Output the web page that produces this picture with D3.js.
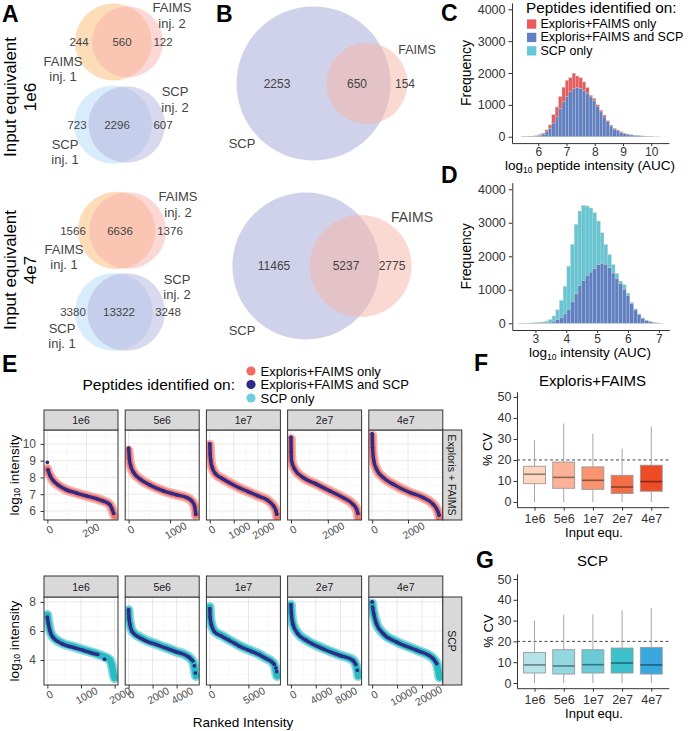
<!DOCTYPE html>
<html><head><meta charset="utf-8">
<script src="https://cdn.jsdelivr.net/npm/d3@7"></script>
<style>body{margin:0;background:#fff} svg{display:block;font-family:"Liberation Sans",Arial,sans-serif}</style>
</head><body><svg id="c" width="690" height="731"></svg>
<script>
// ================= DATA =================
// Panel A: [inj.1 only, shared, inj.2 only]
const vennA_1e6_FAIMS = [244, 560, 122];
const vennA_1e6_SCP   = [723, 2296, 607];
const vennA_4e7_FAIMS = [1566, 6636, 1376];
const vennA_4e7_SCP   = [3380, 13322, 3248];
// Panel B: [SCP only, shared, FAIMS only]
const vennB_1e6 = [2253, 650, 154];
const vennB_4e7 = [11465, 5237, 2775];

// Panel C histogram (bins start 5.4, width 0.12)
const histC_start = 5.4, histC_width = 0.12;
const histC_both = [3,5,8,12,20,45,85,155,270,430,630,890,1100,1260,1410,1520,1545,1510,1460,1370,1250,1140,960,780,620,470,335,240,190,135,95,75,55,40,30,22,15,10,6,4,2];
const histC_faimsOnly = [2,3,5,8,12,20,25,60,100,260,300,370,450,510,440,470,360,340,260,170,50,60,40,50,60,30,30,20,20,20,10,8,5,4,3,2,2,1,1,0,0];
// Panel D histogram (bins start 2.46, width 0.12)
const histD_start = 2.46, histD_width = 0.12;
const histD_both = [1,1,2,3,5,8,12,20,35,60,110,180,280,420,640,880,1120,1280,1420,1530,1630,1750,1790,1760,1660,1500,1340,1180,1020,820,580,400,260,150,85,45,22,9,4];
const histD_scpOnly = [1,2,3,5,10,17,28,45,75,160,290,500,820,1280,1710,2070,2230,2240,2080,1910,1670,1300,910,590,390,250,140,80,130,80,40,30,20,10,5,5,3,1,0];
const histLegend = ["Exploris+FAIMS only", "Exploris+FAIMS and SCP", "SCP only"];

// Panel E: ranked intensity curves [rank, log10 intensity]
const E_cols = ["1e6", "5e6", "1e7", "2e7", "4e7"];
const E_rows = ["Exploris + FAIMS", "SCP"];
const E_top_band = [
  [[0,8.5],[5,8.3],[14,8.1],[31,7.8],[56,7.54],[98,7.26],[149,7.07],[200,6.9],[251,6.74],[285,6.6],[310,6.47],[322,6.35],[332,6.11],[339,5.87],[345,5.7]],
  [[0,9.6],[20,9.1],[50,8.7],[120,8.3],[280,7.9],[520,7.54],[840,7.2],[1160,6.96],[1400,6.8],[1520,6.6],[1590,6.3],[1615,5.9],[1620,5.75]],
  [[0,9.95],[15,9.4],[40,9.0],[100,8.6],[250,8.2],[500,7.95],[800,7.7],[1200,7.4],[1600,7.15],[2000,6.9],[2400,6.65],[2650,6.3],[2760,6.0],[2800,5.65]],
  [[0,10.3],[10,9.5],[30,9.0],[195,8.5],[646,8.0],[1373,7.6],[2094,7.2],[2816,6.8],[3360,6.4],[3560,6.1],[3630,5.8],[3650,5.6]],
  [[0,10.5],[20,9.8],[89,9.0],[240,8.5],[608,8.0],[1165,7.6],[2096,7.1],[2837,6.8],[3395,6.4],[3650,6.0],[3750,5.6]]
];
const E_top_navy = [
  [[0,8.9],null,[3,8.45],[14,8.1],[31,7.8],[56,7.54],[98,7.26],[149,7.07],[200,6.9],[251,6.74],[285,6.6],[310,6.47],[322,6.35],[332,6.11],[340,5.85]],
  [[0,9.75],[20,9.1],[50,8.7],[120,8.3],[280,7.9],[520,7.54],[840,7.2],[1160,6.96],[1400,6.8],[1520,6.6],[1590,6.3],[1612,5.95],[1618,5.8]],
  [[0,10.0],[15,9.4],[40,9.0],[100,8.6],[250,8.2],[500,7.95],[800,7.7],[1200,7.4],[1600,7.15],[2000,6.9],[2400,6.65],[2650,6.3],[2760,6.0],[2790,5.8]],
  [[0,10.4],[10,9.5],[30,9.0],[195,8.5],[646,8.0],[1373,7.6],[2094,7.2],[2816,6.8],[3360,6.4],[3560,6.1],[3630,5.85]],
  [[0,10.6],[20,9.8],[89,9.0],[240,8.5],[608,8.0],[1165,7.6],[2096,7.1],[2837,6.8],[3395,6.4],[3650,6.0],[3730,5.75]]
];
const E_bot_band = [
  [[0,7.1],[30,6.6],[70,6.1],[170,5.6],[450,5.15],[800,4.9],[1070,4.7],[1560,4.35],[1860,4.0],[1930,3.5],[1970,3.0],[2000,2.75]],
  [[0,7.45],[40,6.9],[120,6.5],[300,6.0],[1130,5.5],[2520,5.03],[3910,4.6],[5020,4.2],[5400,3.8],[5520,3.3],[5600,2.9]],
  [[0,7.65],[50,7.0],[200,6.5],[600,6.0],[1500,5.7],[2535,5.38],[3800,5.0],[5120,4.69],[6400,4.4],[7280,4.12],[8000,3.9],[8400,3.6],[8600,3.1],[8700,2.9]],
  [[0,7.8],[60,7.3],[306,6.52],[1113,5.84],[2460,5.38],[5150,4.81],[7840,4.35],[9990,4.0],[10500,3.6],[10750,3.2],[10850,2.9]],
  [[0,7.9],[200,7.6],[640,7.2],[1720,6.52],[4400,5.84],[9750,5.26],[17800,4.69],[24450,4.12],[26000,3.7],[26600,3.2],[27000,2.8]]
];
const E_bot_navy = [
  [[0,6.95],[30,6.5],[70,6.05],[170,5.55],[450,5.1],[800,4.85],[1070,4.67],[1300,4.5],[1500,4.38],null,[1700,4.05]],
  [[0,7.45],[40,6.85],[120,6.45],[300,5.95],[1130,5.45],[2520,5.0],[3910,4.58],[5020,4.2],[5350,3.95],null,[5480,3.6],null,[5560,3.1]],
  [[0,7.55],[50,6.95],[200,6.45],[600,5.95],[1500,5.65],[2535,5.35],[3800,4.97],[5120,4.66],[6400,4.37],[7280,4.1],[8000,3.88],[8350,3.7],null,[8550,3.45],null,[8650,3.2]],
  [[0,7.8],[60,7.25],[306,6.48],[1113,5.8],[2460,5.35],[5150,4.78],[7840,4.32],[9990,3.98],[10450,3.7],null,[10700,3.3]],
  [[0,8.0],null,[150,7.65],[640,7.18],[1720,6.5],[4400,5.82],[9750,5.24],[17800,4.67],[24450,4.1],[25900,3.75]]
];
const E_top_xticks = [[0,200],[0,1000],[0,1000,2000],[0,2000],[0,2000]];
const E_bot_xticks = [[0,1000,2000],[0,2000,4000],[0,5000],[0,4000,8000],[0,10000,20000]];
const E_top_yticks = [6,7,8,9,10];
const E_bot_yticks = [4,6,8];

// Panels F, G: CV boxplots
const inputEqu = ["1e6", "5e6", "1e7", "2e7", "4e7"];
const boxF_low  = [0, 0, 0, 0, 0];
const boxF_q1   = [8.7, 6.5, 6.0, 4.0, 5.1];
const boxF_med  = [13.2, 11.7, 10.3, 7.1, 9.7];
const boxF_q3   = [17.0, 19.0, 16.7, 12.7, 17.5];
const boxF_high = [29.4, 37.3, 32.5, 25.4, 36.0];
const boxG_low  = [0, 0, 0, 0, 0];
const boxG_q1   = [4.8, 4.3, 4.8, 4.8, 4.3];
const boxG_med  = [8.7, 8.2, 8.8, 9.6, 8.7];
const boxG_q3   = [14.7, 16.0, 16.0, 16.8, 17.1];
const boxG_high = [30.0, 32.8, 33.0, 35.0, 36.0];
const cvTicks = [0, 10, 20, 30, 40, 50];
const cvThreshold = 20;

// ================= DRAW =================
const svg = d3.select("#c");
const FONT = '"Liberation Sans", Arial, sans-serif';
function T(g, x, y, s, o = {}) {
  const t = g.append("text").attr("x", x).attr("y", y).text(s)
    .attr("font-size", o.size || 12).attr("fill", o.fill || "#333")
    .attr("text-anchor", o.anchor || "start");
  if (o.central) t.attr("dominant-baseline", "central");
  if (o.bold) t.attr("font-weight", "bold");
  if (o.rotate) t.attr("transform", `rotate(${o.rotate},${x},${y})`);
  return t;
}
function styleAxis(g, size, fill) {
  g.attr("font-family", FONT).attr("font-size", size);
  g.select(".domain").attr("stroke", "#333");
  g.selectAll(".tick line").attr("stroke", "#333");
  g.selectAll(".tick text").attr("fill", fill || "#333");
}

// Panel labels
[["A",2,22],["B",216,22],["C",441,21],["D",441,183],["E",2,372],["F",474,371],["G",476,568]]
  .forEach(([s,x,y]) => T(svg, x, y, s, {size: 23, bold: true, fill: "#000"}));

// ---- Venn ----
function lensArea(d, r1, r2) {
  if (d >= r1 + r2) return 0;
  if (d <= Math.abs(r1 - r2)) return Math.PI * Math.min(r1, r2) ** 2;
  const a = r1*r1*Math.acos((d*d + r1*r1 - r2*r2) / (2*d*r1));
  const b = r2*r2*Math.acos((d*d + r2*r2 - r1*r1) / (2*d*r2));
  const c = 0.5*Math.sqrt((-d+r1+r2)*(d+r1-r2)*(d-r1+r2)*(d+r1+r2));
  return a + b - c;
}
function venn(counts, midX, cy, rMax, fill1, fill2, numPos, numSize) {
  const n1 = counts[0] + counts[1], n2 = counts[1] + counts[2], nm = Math.max(n1, n2);
  const r = d3.scaleSqrt().domain([0, nm]).range([0, rMax]);
  const r1 = r(n1), r2 = r(n2);
  const target = Math.PI * r1 * r1 * counts[1] / n1;
  let lo = Math.abs(r1 - r2), hi = r1 + r2;
  for (let i = 0; i < 60; i++) { const m = (lo + hi) / 2; if (lensArea(m, r1, r2) > target) lo = m; else hi = m; }
  const d = (lo + hi) / 2;
  const c1 = midX - (d + r2 - r1) / 2, c2 = c1 + d;
  const g = svg.append("g");
  g.append("circle").attr("cx", c1).attr("cy", cy).attr("r", r1).attr("fill", fill1).attr("fill-opacity", 0.5);
  g.append("circle").attr("cx", c2).attr("cy", cy).attr("r", r2).attr("fill", fill2).attr("fill-opacity", 0.5);
  counts.forEach((v, i) => T(g, numPos[i], cy, d3.format("d")(v), {size: numSize, anchor: "middle", central: true, fill: "#444"}));
}
venn(vennA_1e6_FAIMS, 119, 42, 38.5, "#fbb971", "#f7afad", [79,122,163], 11.5);
venn(vennA_1e6_SCP, 119.5, 124.5, 39, "#b3d9f7", "#b1b1dd", [77,117,163], 11.5);
venn(vennA_4e7_FAIMS, 122, 230.5, 38.8, "#fbb971", "#f7afad", [73,120,170], 11.5);
venn(vennA_4e7_SCP, 120, 312, 39, "#b3d9f7", "#b1b1dd", [73,119,168], 11.5);
venn(vennB_1e6, 322, 83.5, 77, "#a1a3d5", "#f5b3a5", [277,357,405], 12);
venn(vennB_4e7, 322, 266, 73.5, "#a1a3d5", "#f5b3a5", [274,346,392], 12);

const vl = [
  ["FAIMS",172,7],["inj. 2",172,23],["FAIMS",63,61],["inj. 1",63,76],
  ["SCP",175,91],["inj. 2",175,107],["SCP",65,144],["inj. 1",65,159],
  ["FAIMS",178,196],["inj. 2",178,212],["FAIMS",64,249],["inj. 1",64,264],
  ["SCP",177,279],["inj. 2",177,294],["SCP",62,328],["inj. 1",62,343]
];
vl.forEach(([s,x,y]) => T(svg, x, y, s, {size: 13, anchor: "middle", central: true, fill: "#444"}));
T(svg, 417, 50, "FAIMS", {size: 12.5, anchor: "middle", central: true, fill: "#444"});
T(svg, 242, 143, "SCP", {size: 13, anchor: "middle", central: true, fill: "#444"});
T(svg, 412, 217, "FAIMS", {size: 14, anchor: "middle", central: true, fill: "#444"});
T(svg, 242, 330, "SCP", {size: 13, anchor: "middle", central: true, fill: "#444"});
[["Input equivalent",10,97],["1e6",30,97],["Input equivalent",10,270],["4e7",30,270]]
  .forEach(([s,x,y]) => T(svg, x, y, s, {size: 17, anchor: "middle", central: true, fill: "#000", rotate: -90}));

// ---- Histograms C, D ----
const colRed = "#ec5a5b", colBlue = "#5f80c5", colTeal = "#62c8d6";
function hist(cfg) {
  const g = svg.append("g");
  const x = d3.scaleLinear().domain(cfg.xdom).range(cfg.xr);
  const y = d3.scaleLinear().domain([-200, 4200]).range(cfg.yr);
  const bins = cfg.bottom.map((v, i) => ({x0: cfg.start + i*cfg.width, x1: cfg.start + (i+1)*cfg.width, b: v, t: cfg.top[i]}));
  g.selectAll("rect.b").data(bins).join("rect").attr("class","b")
    .attr("x", d => x(d.x0)).attr("width", d => x(d.x1) - x(d.x0))
    .attr("y", d => y(d.b)).attr("height", d => y(0) - y(d.b))
    .attr("fill", colBlue).attr("stroke", "#c4c4c4").attr("stroke-width", 0.4);
  g.selectAll("rect.t").data(bins).join("rect").attr("class","t")
    .attr("x", d => x(d.x0)).attr("width", d => x(d.x1) - x(d.x0))
    .attr("y", d => y(d.b + d.t)).attr("height", d => y(d.b) - y(d.b + d.t))
    .attr("fill", cfg.topColor).attr("stroke", "#c4c4c4").attr("stroke-width", 0.4);
  const ax = g.append("g").attr("transform", `translate(0,${cfg.yr[0]})`)
    .call(d3.axisBottom(x).tickValues(cfg.xticks).tickFormat(d3.format("d")).tickSize(3).tickPadding(1.5).tickSizeOuter(0));
  styleAxis(ax, 12);
  const ay = g.append("g").attr("transform", `translate(${cfg.xr[0]},0)`)
    .call(d3.axisLeft(y).tickValues([0,1000,2000,3000,4000]).tickFormat(d3.format("d")).tickSize(3.5).tickPadding(3).tickSizeOuter(0));
  styleAxis(ay, 12.5);
  T(g, 466, (cfg.yr[0] + cfg.yr[1]) / 2, "Frequency", {size: 14, anchor: "middle", central: true, fill: "#000", rotate: -90});
  const tt = T(g, 590, cfg.titleY, "log", {size: 13.5, anchor: "middle", fill: "#000"});
  tt.append("tspan").text("10").attr("font-size", 8.5).attr("dy", 3);
  tt.append("tspan").text(cfg.titleRest).attr("dy", -3);
}
hist({xdom: [5.07, 10.63], xr: [512, 669], yr: [143.1, 2.9], start: histC_start, width: histC_width,
      bottom: histC_both, top: histC_faimsOnly, topColor: colRed, xticks: [6,7,8,9,10],
      titleY: 170, titleRest: " peptide intensity (AUC)"});
hist({xdom: [2.25, 7.34], xr: [512.3, 669.3], yr: [330, 182.6], start: histD_start, width: histD_width,
      bottom: histD_both, top: histD_scpOnly, topColor: colTeal, xticks: [3,4,5,6,7],
      titleY: 357, titleRest: " intensity (AUC)"});
// legend C
T(svg, 526, 12.5, "Peptides identified on:", {size: 15.3, fill: "#000"});
[colRed, colBlue, colTeal].forEach((c, i) => {
  const yy = 24 + i * 13.4;
  svg.append("rect").attr("x", 527).attr("y", yy - 4.6).attr("width", 9.3).attr("height", 9.3).attr("fill", c);
  T(svg, 540.5, yy, histLegend[i], {size: 12.5, central: true, fill: "#000"});
});

// ---- Panel E ----
const EX0 = 44, EW = 74, ESTEP = 81.2;
const rowsCfg = [
  {strip: [410, 430], py: [430, 520], ydom: [5.46, 10.83], yt: E_top_yticks, band: E_top_band, navy: E_top_navy, xt: E_top_xticks,
   light: "#f7b3ad", main: "#f07a71", lab: E_rows[0]},
  {strip: [576, 597], py: [597, 685], ydom: [2.28, 8.34], yt: E_bot_yticks, band: E_bot_band, navy: E_bot_navy, xt: E_bot_xticks,
   light: "#8fd8dc", main: "#27bcc4", lab: E_rows[1]}
];
const navyCol = "#2e2a85";
rowsCfg.forEach((rc, ri) => {
  const y = d3.scaleLinear().domain(rc.ydom).range([rc.py[1], rc.py[0]]);
  E_cols.forEach((cname, ci) => {
    const g = svg.append("g");
    const x0 = EX0 + ci * ESTEP;
    const maxR = d3.max(rc.band[ci], d => d[0]);
    const x = d3.scaleLinear().domain([-0.05 * maxR, 1.05 * maxR]).range([x0, x0 + EW]);
    const ticks = rc.xt[ci], step = ticks[1] - ticks[0];
    const minorX = d3.range(step / 2, 1.05 * maxR, step);
    g.append("rect").attr("x", x0).attr("y", rc.py[0]).attr("width", EW).attr("height", rc.py[1] - rc.py[0]).attr("fill", "#fff");
    const ymaj = rc.yt, ystep = ymaj[1] - ymaj[0];
    const yminor = d3.range(ymaj[0] - ystep / 2, rc.ydom[1], ystep).filter(v => v > rc.ydom[0]);
    g.selectAll("line.mnx").data(minorX).join("line").attr("x1", d => x(d)).attr("x2", d => x(d))
      .attr("y1", rc.py[0]).attr("y2", rc.py[1]).attr("stroke", "#f3f3f3").attr("stroke-width", 0.6);
    g.selectAll("line.mny").data(yminor).join("line").attr("y1", d => y(d)).attr("y2", d => y(d))
      .attr("x1", x0).attr("x2", x0 + EW).attr("stroke", "#f3f3f3").attr("stroke-width", 0.6);
    g.selectAll("line.mjx").data(ticks).join("line").attr("x1", d => x(d)).attr("x2", d => x(d))
      .attr("y1", rc.py[0]).attr("y2", rc.py[1]).attr("stroke", "#e8e8e8").attr("stroke-width", 1);
    g.selectAll("line.mjy").data(ymaj).join("line").attr("y1", d => y(d)).attr("y2", d => y(d))
      .attr("x1", x0).attr("x2", x0 + EW).attr("stroke", "#e8e8e8").attr("stroke-width", 1);
    const line = d3.line().defined(d => d != null).x(d => x(d[0])).y(d => y(d[1])).curve(d3.curveMonotoneX);
    const clip = "clipE" + ri + ci;
    g.append("clipPath").attr("id", clip).append("rect").attr("x", x0).attr("y", rc.py[0] - 2).attr("width", EW).attr("height", rc.py[1] - rc.py[0] + 2);
    const cg = g.append("g").attr("clip-path", `url(#${clip})`);
    cg.append("path").attr("d", line(rc.band[ci])).attr("fill", "none").attr("stroke", rc.light)
      .attr("stroke-width", 10).attr("stroke-linecap", "round").attr("stroke-linejoin", "round");
    cg.append("path").attr("d", line(rc.band[ci])).attr("fill", "none").attr("stroke", rc.main)
      .attr("stroke-width", 6.5).attr("stroke-linecap", "round").attr("stroke-linejoin", "round");
    cg.append("path").attr("d", line(rc.navy[ci])).attr("fill", "none").attr("stroke", navyCol)
      .attr("stroke-width", 3.4).attr("stroke-linecap", "round").attr("stroke-linejoin", "round");
    cg.selectAll("circle").data(rc.navy[ci].filter(d => d)).join("circle")
      .attr("cx", d => x(d[0])).attr("cy", d => y(d[1])).attr("r", 1.8).attr("fill", navyCol);
    g.append("rect").attr("x", x0).attr("y", rc.py[0]).attr("width", EW).attr("height", rc.py[1] - rc.py[0])
      .attr("fill", "none").attr("stroke", "#333").attr("stroke-width", 1);
    g.append("rect").attr("x", x0).attr("y", rc.strip[0]).attr("width", EW).attr("height", rc.strip[1] - rc.strip[0])
      .attr("fill", "#d9d9d9").attr("stroke", "#333").attr("stroke-width", 1);
    T(g, x0 + EW / 2, (rc.strip[0] + rc.strip[1]) / 2, cname, {size: 10.5, anchor: "middle", central: true, fill: "#1a1a1a"});
    const ax = g.append("g").attr("transform", `translate(0,${rc.py[1]})`)
      .call(d3.axisBottom(x).tickValues(ticks).tickFormat(d3.format("d")).tickSize(3.5).tickSizeOuter(0));
    styleAxis(ax, 10.5, "#4d4d4d");
    ax.select(".domain").remove();
    ax.selectAll(".tick text").each(function(d) {
      const s = d3.format("d")(d);
      d3.select(this).attr("y", null).attr("dy", null).attr("text-anchor", "middle").attr("dominant-baseline", "central")
        .attr("transform", `translate(${0.5 + s.length * 1.1},${9 + s.length * 0.3}) rotate(-30)`);
    });
    if (ci === 0) {
      const ay = g.append("g").attr("transform", `translate(${x0},0)`)
        .call(d3.axisLeft(y).tickValues(rc.yt).tickFormat(d3.format("d")).tickSize(3.5).tickPadding(4.5).tickSizeOuter(0));
      styleAxis(ay, 12, "#4d4d4d");
      ay.select(".domain").remove();
    }
  });
  const sx = EX0 + 4 * ESTEP + EW;
  svg.append("rect").attr("x", sx).attr("y", rc.py[0]).attr("width", 19).attr("height", rc.py[1] - rc.py[0])
    .attr("fill", "#d9d9d9").attr("stroke", "#333").attr("stroke-width", 1);
  T(svg, sx + 9.5, (rc.py[0] + rc.py[1]) / 2, rc.lab, {size: 10.5, anchor: "middle", central: true, fill: "#1a1a1a", rotate: 90});
  const yt = T(svg, 14, (rc.py[0] + rc.py[1]) / 2, "log", {size: 13.5, anchor: "middle", central: true, fill: "#000", rotate: -90});
  yt.append("tspan").text("10").attr("font-size", 8.5).attr("dy", 3);
  yt.append("tspan").text(" intensity").attr("dy", -3);
});
T(svg, 243, 722, "Ranked Intensity", {size: 13.5, anchor: "middle", central: true, fill: "#000"});
// legend E
T(svg, 82.5, 384, "Peptides identified on:", {size: 15.5, central: true, fill: "#000"});
["#f26a64", navyCol, "#6ccfdf"].forEach((c, i) => {
  const yy = 371 + i * 13.5;
  svg.append("circle").attr("cx", 251).attr("cy", yy).attr("r", 4.6).attr("fill", c);
  T(svg, 260.5, yy, histLegend[i], {size: 13, central: true, fill: "#000"});
});

// ---- Boxplots F, G ----
function boxplot(cfg) {
  const g = svg.append("g");
  const x = d3.scalePoint().domain(inputEqu).range([517, 668.8]).padding(0.6);
  const y = d3.scaleLinear().domain([-2.5, 52.5]).range(cfg.yr);
  const bw = x.step() * 0.75;
  g.append("line").attr("x1", 517).attr("x2", 668.8).attr("y1", y(cvThreshold)).attr("y2", y(cvThreshold))
    .attr("stroke", "#333").attr("stroke-dasharray", "3,2.5").attr("stroke-width", 0.9);
  inputEqu.forEach((k, i) => {
    const cx = x(k);
    g.append("line").attr("x1", cx).attr("x2", cx).attr("y1", y(cfg.high[i])).attr("y2", y(cfg.q3[i])).attr("stroke", "#a6a6a6");
    g.append("line").attr("x1", cx).attr("x2", cx).attr("y1", y(cfg.q1[i])).attr("y2", y(cfg.low[i])).attr("stroke", "#a6a6a6");
    g.append("rect").attr("x", cx - bw / 2).attr("width", bw).attr("y", y(cfg.q3[i])).attr("height", y(cfg.q1[i]) - y(cfg.q3[i]))
      .attr("fill", cfg.colors[i]).attr("stroke", "#9a9a9a").attr("stroke-width", 0.9);
    g.append("line").attr("x1", cx - bw / 2).attr("x2", cx + bw / 2).attr("y1", y(cfg.med[i])).attr("y2", y(cfg.med[i]))
      .attr("stroke", d3.color(cfg.colors[i]).darker(1.6)).attr("stroke-width", 1.6);
  });
  const ax = g.append("g").attr("transform", `translate(0,${cfg.yr[0]})`)
    .call(d3.axisBottom(x).tickSize(3.5).tickPadding(3).tickSizeOuter(0));
  styleAxis(ax, 12.5);
  const ay = g.append("g").attr("transform", `translate(517,0)`)
    .call(d3.axisLeft(y).tickValues(cvTicks).tickSize(3.5).tickPadding(2).tickSizeOuter(0));
  styleAxis(ay, 12.5);
  T(g, 592.5, cfg.titleY, cfg.title, {size: 15, anchor: "middle", fill: "#000"});
  T(g, 488, (cfg.yr[0] + cfg.yr[1]) / 2, "% CV", {size: 13, anchor: "middle", central: true, fill: "#000", rotate: -90});
  T(g, 594, cfg.xtY, "Input equ.", {size: 13, anchor: "middle", fill: "#000"});
}
boxplot({yr: [507.2, 391.7], low: boxF_low, q1: boxF_q1, med: boxF_med, q3: boxF_q3, high: boxF_high,
  colors: ["#fdd5c1","#fcb298","#f99370","#f36e46","#ee4b27"], title: "Exploris+FAIMS", titleY: 385.5, xtY: 537});
boxplot({yr: [688.2, 573.8], low: boxG_low, q1: boxG_q1, med: boxG_med, q3: boxG_q3, high: boxG_high,
  colors: ["#b6e3ea","#93d7e1","#6acad7","#3bc0cc","#38a8de"], title: "SCP", titleY: 566, xtY: 718});
</script></body></html>
